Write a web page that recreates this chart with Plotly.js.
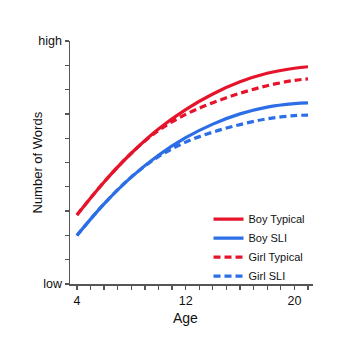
<!DOCTYPE html>
<html>
<head>
<meta charset="utf-8">
<script src="https://cdn.plot.ly/plotly-3.0.1.min.js"></script>
<style>html,body{margin:0;padding:0;background:#fff;}#chart{width:356px;height:364px;}</style>
</head>
<body>
<div id="chart"></div>
<script>
var ages = [4, 6, 8, 10, 12, 14, 16, 18, 20, 21];
var boyTypical  = [2.84, 4.20, 5.38, 6.38, 7.18, 7.82, 8.32, 8.67, 8.88, 8.94];
var boySLI      = [2.00, 3.30, 4.40, 5.30, 6.02, 6.58, 7.00, 7.28, 7.42, 7.45];
var girlTypical = [2.84, 4.20, 5.38, 6.32, 6.98, 7.46, 7.85, 8.16, 8.38, 8.44];
var girlSLI     = [2.00, 3.30, 4.40, 5.24, 5.84, 6.25, 6.56, 6.80, 6.93, 6.95];
var seriesNames = ['Boy Typical', 'Boy SLI', 'Girl Typical', 'Girl SLI'];
var yTickVals = [0,1,2,3,4,5,6,7,8,9,10];
var yTickText = ['low','','','','','','','','','','high'];
var xTickVals = [4,5,6,7,8,9,10,11,12,13,14,15,16,17,18,19,20,21];
var xTickText = ['4','','','','','','','','12','','','','','','','','20',''];

var RED = '#e5142b', BLUE = '#2b6ee6';
function tr(y, name, color, dash) {
  return {x: ages, y: y, name: name, type: 'scatter', mode: 'lines',
    line: {color: color, width: 3.2, shape: 'spline', dash: dash}};
}
var data = [
  tr(boyTypical, seriesNames[0], RED, 'solid'),
  tr(boySLI, seriesNames[1], BLUE, 'solid'),
  tr(girlTypical, seriesNames[2], RED, '7px,4px'),
  tr(girlSLI, seriesNames[3], BLUE, '7px,4px')
];
var axisCol = '#555';
var layout = {
  width: 356, height: 364,
  margin: {l: 70, r: 43, t: 41, b: 80},
  paper_bgcolor: '#fff', plot_bgcolor: '#fff',
  font: {family: 'Liberation Sans, Arial, sans-serif', size: 12, color: '#111'},
  showlegend: true,
  legend: {x: 0.57, y: 0.327, xanchor: 'left', yanchor: 'top', bgcolor: 'rgba(0,0,0,0)',
    font: {size: 11, color: '#111'}, itemwidth: 30, tracegroupgap: 0},
  xaxis: {range: [3.49, 21.37], tickvals: xTickVals, ticktext: xTickText,
    ticks: 'outside', ticklen: 4, tickwidth: 1.3, tickcolor: axisCol,
    showline: true, linecolor: axisCol, linewidth: 1.5, showgrid: false, zeroline: false,
    tickfont: {size: 12.5}},
  yaxis: {range: [0, 10], tickvals: yTickVals, ticktext: yTickText,
    ticks: 'outside', ticklen: 4, tickwidth: 1.3, tickcolor: axisCol,
    showline: true, linecolor: axisCol, linewidth: 1.5, showgrid: false, zeroline: false,
    tickfont: {size: 12.5}},
  annotations: [
    {text: 'Number of Words', xref: 'paper', yref: 'paper', x: 0, y: 0.5,
     xanchor: 'center', yanchor: 'middle', xshift: -33, textangle: -90,
     showarrow: false, font: {size: 13}},
    {text: 'Age', xref: 'paper', yref: 'paper', x: 0.5, y: 0,
     xanchor: 'center', yanchor: 'middle', xshift: -6, yshift: -34,
     showarrow: false, font: {size: 14}}
  ]
};
Plotly.newPlot('chart', data, layout, {displayModeBar: false, staticPlot: true});
</script>
</body>
</html>
